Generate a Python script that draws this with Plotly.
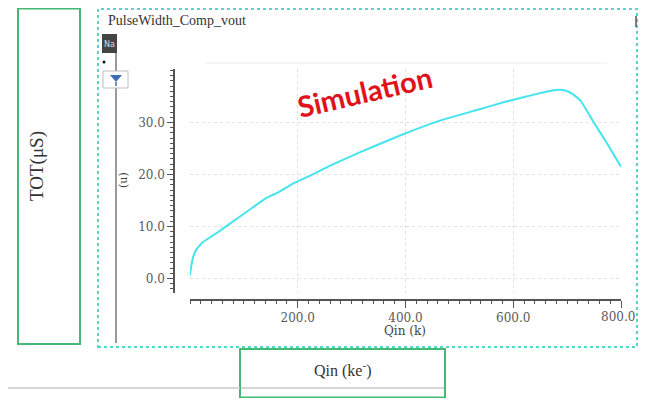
import plotly.graph_objects as go

# ---- data ----
qin = [0, 2, 6, 12, 24, 40, 56, 87, 117, 142, 150, 161, 192, 223, 260, 316, 390, 465, 539, 582, 644, 670, 685, 698, 710, 725, 749, 774, 800]
tot = [0.6, 2.2, 4.2, 5.6, 7.0, 8.1, 9.2, 11.5, 13.7, 15.5, 15.9, 16.4, 18.3, 19.8, 21.7, 24.3, 27.5, 30.4, 32.6, 33.9, 35.5, 36.1, 36.3, 36.1, 35.5, 34.2, 30.1, 26.0, 21.5]
x_ticks = [200, 400, 600, 800]
x_tick_labels = ["200.0", "400.0", "600.0", "800.0"]
y_ticks = [0, 10, 20, 30]
y_tick_labels = ["0.0", "10.0", "20.0", "30.0"]

# page is 646x406; body keeps its default 8px margin, so the figure is 630x390
M = 8
W, H = 646 - 2 * M, 406 - 2 * M
def px(x):
    return (x - M) / W
def py(y):
    return 1 - (y - M) / H

fig = go.Figure()
fig.add_trace(go.Scatter(x=qin, y=tot, mode="lines",
                         line=dict(color="#45e4ee", width=2, shape="spline", smoothing=0.3),
                         showlegend=False, hoverinfo="skip"))

tickfont = dict(family="DejaVu Serif", size=12, color="#5a5a5a")
# the last x label sits at the page edge; it is drawn right-aligned to its tick so it stays inside
axis_x_labels = x_tick_labels[:-1] + [""]
fig.update_layout(
    width=W, height=H,
    margin=dict(l=0, r=0, t=0, b=0),
    paper_bgcolor="white", plot_bgcolor="rgba(0,0,0,0)",
    xaxis=dict(domain=[px(190), px(621)], range=[0, 800], anchor="free", position=py(300),
               showline=True, linecolor="#555", linewidth=1.5,
               ticks="outside", ticklen=7, tickcolor="#555", tickwidth=1.2,
               tickvals=x_ticks, ticktext=axis_x_labels, tickfont=tickfont,
               showgrid=True, gridcolor="#e2e2e2", griddash="dot", gridwidth=1,
               zeroline=False,
               minor=dict(dtick=20, tick0=0, ticks="outside", ticklen=3, tickcolor="#555", showgrid=False)),
    yaxis=dict(domain=[py(293), py(69)], range=[(278.5 - 293) / 5.2, (278.5 - 69) / 5.2],
               anchor="free", position=px(174),
               showline=True, linecolor="#555", linewidth=1.5,
               ticks="outside", ticklen=6, tickcolor="#555", tickwidth=1.2,
               tickvals=y_ticks, ticktext=y_tick_labels, tickfont=tickfont,
               showgrid=True, gridcolor="#e2e2e2", griddash="dot", gridwidth=1,
               zeroline=False,
               minor=dict(dtick=1, tick0=0, ticks="outside", ticklen=3, tickcolor="#555", showgrid=False)),
)

shapes = []
def rect(x0, y0, x1, y1, **kw):
    shapes.append(dict(type="rect", xref="paper", yref="paper",
                       x0=px(x0), x1=px(x1), y0=py(y1), y1=py(y0), **kw))
def line(x0, y0, x1, y1, **kw):
    shapes.append(dict(type="line", xref="paper", yref="paper",
                       x0=px(x0), x1=px(x1), y0=py(y0), y1=py(y1), **kw))

# left green box
rect(18, 8.5, 80, 344, line=dict(color="#45b874", width=2))
# cyan dotted frame
rect(98, 9, 637, 347, line=dict(color="#55d6c8", width=2, dash="dot"))
# bottom green box
rect(240, 349, 445, 397.5, line=dict(color="#45b874", width=2))
# grey separator line at bottom
line(8, 388, 240, 388, line=dict(color="#c9c9c9", width=1.5))
line(241, 388, 444, 388, line=dict(color="#c9c9c9", width=1.5))
# grey vertical line of legend panel
line(116, 53, 116, 343, line=dict(color="#9a9a9a", width=2))
# dark square
rect(102, 34, 117, 53, fillcolor="#444444", line=dict(width=0))
# dot
shapes.append(dict(type="circle", xref="paper", yref="paper",
                   x0=px(102.5), x1=px(105.5), y0=py(63.5), y1=py(60.5),
                   fillcolor="#111", line=dict(width=0)))
# filter icon box
rect(103, 71, 128, 88, fillcolor="white", line=dict(color="#bdbdbd", width=1))
shapes.append(dict(type="path", xref="paper", yref="paper",
                   path=f"M {px(110)} {py(75)} L {px(122)} {py(75)} L {px(116)} {py(82)} Z",
                   fillcolor="#3d6fb3", line=dict(width=0)))
line(116, 82, 116, 86, line=dict(color="#3d6fb3", width=1.5))
# top border of plot area
line(205, 63, 607, 63, line=dict(color="#ececec", width=1))
# small mark at right
line(636, 16, 636, 27, line=dict(color="#555", width=1.5))

fig.update_layout(shapes=shapes)

ann = []
def text(x, y, t, size, color="#333", family="Liberation Serif", angle=0, xanchor="center", bold=False):
    ann.append(dict(x=px(x), y=py(y), xref="paper", yref="paper", text=(f"<b>{t}</b>" if bold else t),
                    showarrow=False, textangle=angle, xanchor=xanchor, yanchor="middle",
                    font=dict(family=family, size=size, color=color)))

text(106, 20, "PulseWidth_Comp_vout", 14, color="#333", xanchor="left")
text(109.5, 44, "Na", 8, color="#ddd", family="DejaVu Sans")
text(37, 166, "TOT(μS)", 19, angle=-90)
text(123, 180, "(u)", 11, color="#444", family="DejaVu Serif", angle=-90)
text(405, 331, "Qin (k)", 12, color="#444", family="DejaVu Serif")
text(343, 369, "Qin (ke<sup>-</sup>)", 16)
text(364, 91, "Simulation", 29, color="#e0121c", family="Lato", angle=-13, bold=True)

# last x tick label, placed on the x axis scale at its tick value, kept inside the page
ann.append(dict(x=x_ticks[-1], xref="x", y=py(316.5), yref="paper", text=x_tick_labels[-1],
                showarrow=False, xanchor="right", xshift=16, yanchor="middle",
                font=tickfont))

fig.update_layout(annotations=ann)
fig.write_html("out.html", config={"displayModeBar": False})
